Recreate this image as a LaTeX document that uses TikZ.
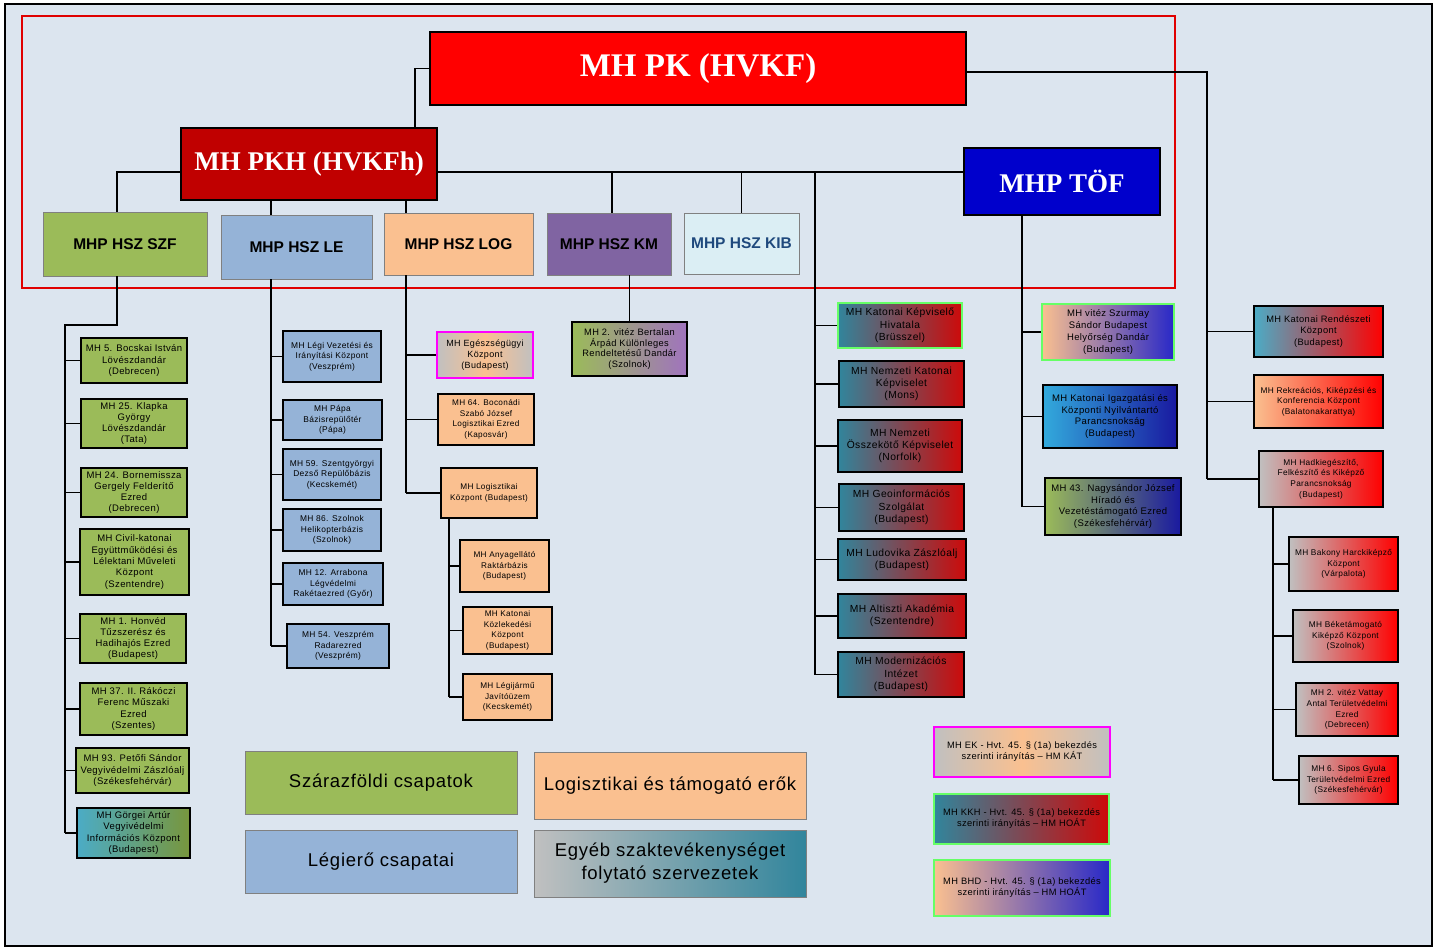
\documentclass[tikz,border=0pt]{standalone}
\usepackage{fontspec}
\setmainfont{Liberation Sans}
\newfontfamily\headfont{Liberation Serif}
\newfontfamily\spfont{Liberation Sans}[LetterSpace=4]
\usepackage{tikz}
\usetikzlibrary{positioning}
\definecolor{bgblue}{RGB}{220,229,239}
\definecolor{framered}{RGB}{224,0,0}
\definecolor{szfgreen}{RGB}{155,187,89}
\definecolor{leblue}{RGB}{149,179,215}
\definecolor{logpeach}{RGB}{250,192,144}
\definecolor{kmpurple}{RGB}{128,100,162}
\definecolor{kmlilac}{RGB}{160,115,190}
\definecolor{kibfill}{RGB}{219,238,244}
\definecolor{kibtext}{RGB}{31,73,125}
\definecolor{pkred}{RGB}{255,0,0}
\definecolor{pkhred}{RGB}{192,0,0}
\definecolor{tofblue}{RGB}{0,0,204}
\definecolor{mhteal}{RGB}{49,133,156}
\definecolor{mhred}{RGB}{205,10,10}
\definecolor{mhbright}{RGB}{255,0,0}
\definecolor{mhgray}{RGB}{192,192,192}
\definecolor{cyanblue}{RGB}{75,172,198}
\definecolor{skyblue}{RGB}{50,170,220}
\definecolor{mhnavy}{RGB}{25,25,160}
\definecolor{mhindigo}{RGB}{40,40,200}
\definecolor{mholive}{RGB}{120,150,60}
\definecolor{mhlime}{RGB}{102,255,102}
\definecolor{mhmagenta}{RGB}{255,0,255}

\begin{document}
\begin{tikzpicture}[x=1pt,y=-1pt,
    unit/.style={draw=black,line width=1.8pt,align=center,inner sep=1pt},
    wh/.style 2 args={minimum width=#1,minimum height=#2},
    szfu/.style={unit,fill=szfgreen,font=\spfont\fontsize{9.5}{11.3}\selectfont},
    leu/.style={unit,fill=leblue,font=\spfont\fontsize{8.4}{10.6}\selectfont},
    logu/.style={unit,fill=logpeach,font=\spfont\fontsize{8.2}{10.6}\selectfont},
    midu/.style={unit,left color=mhteal,right color=mhred,font=\spfont\fontsize{10.3}{12.3}\selectfont},
    tofu/.style={unit,font=\spfont\fontsize{9.5}{11.8}\selectfont},
    rgtu/.style={unit,font=\spfont\fontsize{8.3}{10.6}\selectfont},
    hsz/.style={draw=gray,line width=0.8pt,font=\bfseries\fontsize{15.5}{18}\selectfont},
    head/.style={draw=black,line width=1.5pt,text=white,font=\headfont\bfseries\fontsize{27}{30}\selectfont},
    leg/.style={draw=gray,line width=0.8pt,align=center,font=\spfont\fontsize{18.5}{23}\selectfont},
    note/.style={line width=1.8pt,align=center,font=\spfont\fontsize{9.3}{11}\selectfont},
    wire/.style={line width=1.3pt}]

\useasboundingbox (0,0) rectangle (1437,949);
\fill[white] (0,0) rectangle (1437,949);
\draw[line width=2pt,fill=bgblue] (5,4) rectangle (1432,946);
\draw[line width=1.6pt,draw=framered] (22,16) rectangle (1175,288);

\node[head,fill=pkred,wh={536}{73},font=\headfont\bfseries\fontsize{33}{36}\selectfont] (pk) at (698,68.5) {MH PK (HVKF)};
\node[head,fill=pkhred,wh={256}{72}] (pkh) at (309,164) {MH PKH (HVKFh)};
\node[head,fill=tofblue,wh={196}{67}] (tof) at (1062,181.5) {MHP TÖF};

\node[hsz,fill=szfgreen,wh={164}{64}] (szf) at (125,244) {MHP HSZ SZF};
\node[hsz,fill=leblue,wh={151}{64}] (le) at (296.5,247) {MHP HSZ LE};
\node[hsz,fill=logpeach,wh={149}{62}] (log) at (458.5,244) {MHP HSZ LOG};
\node[hsz,fill=kmpurple,wh={124}{62}] (km) at (609,244) {MHP HSZ KM};
\node[hsz,fill=kibfill,text=kibtext,wh={115}{61}] (kib) at (741.5,243.5) {MHP HSZ KIB};

\node[szfu,wh={106}{45}] (c1) at (134,360.5) {MH 5. Bocskai István\\Lövészdandár\\(Debrecen)};
\node[szfu,wh={106}{49}] (c2) at (134,423.5) {MH 25. Klapka\\György\\Lövészdandár\\(Tata)};
\node[szfu,wh={106}{49}] (c3) at (134,492.5) {MH 24. Bornemissza\\Gergely Felderítő\\Ezred\\(Debrecen)};
\node[szfu,wh={109}{66}] (c4) at (134.5,562) {MH Civil-katonai\\Együttműködési és\\Lélektani Műveleti\\Központ\\(Szentendre)};
\node[szfu,wh={106}{49}] (c5) at (133,638.5) {MH 1. Honvéd\\Tűzszerész és\\Hadihajós Ezred\\(Budapest)};
\node[szfu,wh={107}{52}] (c6) at (133.5,709) {MH 37. II. Rákóczi\\Ferenc Műszaki\\Ezred\\(Szentes)};
\node[szfu,wh={113}{45}] (c7) at (132.5,770.5) {MH 93. Petőfi Sándor\\Vegyivédelmi Zászlóalj\\(Székesfehérvár)};
\node[szfu,left color=cyanblue,right color=mholive,wh={113}{50}] (c8) at (133.5,833) {MH Görgei Artúr\\Vegyivédelmi\\Információs Központ\\(Budapest)};

\node[leu,wh={98}{51}] (l1) at (332,356.5) {MH Légi Vezetési és\\Irányítási Központ\\(Veszprém)};
\node[leu,wh={99}{40}] (l2) at (332.5,420) {MH Pápa\\Bázisrepülőtér\\(Pápa)};
\node[leu,wh={98}{51}] (l3) at (332,474.5) {MH 59. Szentgyörgyi\\Dezső Repülőbázis\\(Kecskemét)};
\node[leu,wh={98}{42}] (l4) at (332,530) {MH 86. Szolnok\\Helikopterbázis\\(Szolnok)};
\node[leu,wh={100}{42}] (l5) at (333,584) {MH 12. Arrabona\\Légvédelmi\\Rakétaezred (Győr)};
\node[leu,wh={102}{44}] (l6) at (338,646) {MH 54. Veszprém\\Radarezred\\(Veszprém)};

\node[logu,draw=mhmagenta,left color=mhgray,right color=mhgray,middle color=logpeach,wh={96}{46},font=\spfont\fontsize{9}{11.2}\selectfont] (g1) at (485,355) {MH Egészségügyi\\Központ\\(Budapest)};
\node[logu,wh={96}{51}] (g2) at (486,419.5) {MH 64. Boconádi\\Szabó József\\Logisztikai Ezred\\(Kaposvár)};
\node[logu,wh={96}{50}] (g3) at (489,493) {MH Logisztikai\\Központ (Budapest)};
\node[logu,wh={89}{52}] (g4) at (504.5,566) {MH Anyagellátó\\Raktárbázis\\(Budapest)};
\node[logu,wh={89}{47}] (g5) at (507.5,630.5) {MH Katonai\\Közlekedési\\Központ\\(Budapest)};
\node[logu,wh={89}{46}] (g6) at (507.5,697) {MH Légijármű\\Javítóüzem\\(Kecskemét)};

\node[unit,left color=szfgreen,right color=kmlilac,wh={115}{54},font=\spfont\fontsize{9.3}{10.8}\selectfont] (kmb) at (629.5,349) {MH 2. vitéz Bertalan\\Árpád Különleges\\Rendeltetésű Dandár\\(Szolnok)};

\node[midu,draw=mhlime,wh={124}{45}] (m1) at (900,325.5) {MH Katonai Képviselő\\Hivatala\\(Brüsszel)};
\node[midu,wh={125}{46}] (m2) at (901.5,384) {MH Nemzeti Katonai\\Képviselet\\(Mons)};
\node[midu,wh={124}{52}] (m3) at (900,446) {MH Nemzeti\\Összekötő Képviselet\\(Norfolk)};
\node[midu,wh={125}{47}] (m4) at (901.5,507.5) {MH Geoinformációs\\Szolgálat\\(Budapest)};
\node[midu,wh={128}{41}] (m5) at (902,559.5) {MH Ludovika Zászlóalj\\(Budapest)};
\node[midu,wh={128}{44}] (m6) at (902,616) {MH Altiszti Akadémia\\(Szentendre)};
\node[midu,wh={126}{45}] (m7) at (901,674.5) {MH Modernizációs\\Intézet\\(Budapest)};

\node[tofu,draw=mhlime,left color=logpeach,right color=mhindigo,wh={132}{56}] (t1) at (1108,332) {MH vitéz Szurmay\\Sándor Budapest\\Helyőrség Dandár\\(Budapest)};
\node[tofu,left color=skyblue,right color=mhnavy,wh={134}{63}] (t2) at (1110,416.5) {MH Katonai Igazgatási és\\Központi Nyilvántartó\\Parancsnokság\\(Budapest)};
\node[tofu,left color=szfgreen,right color=mhnavy,wh={136}{57}] (t3) at (1113,506.5) {MH 43. Nagysándor József\\Híradó és\\Vezetéstámogató Ezred\\(Székesfehérvár)};

\node[rgtu,left color=cyanblue,right color=mhbright,wh={129}{51},font=\spfont\fontsize{9.3}{11.3}\selectfont] (r1) at (1318.5,331.5) {MH Katonai Rendészeti\\Központ\\(Budapest)};
\node[rgtu,left color=logpeach,right color=mhbright,wh={129}{53}] (r2) at (1318.5,401.5) {MH Rekreációs, Kiképzési és\\Konferencia Központ\\(Balatonakarattya)};
\node[rgtu,left color=mhgray,right color=mhbright,wh={124}{56}] (r3) at (1321,479) {MH Hadkiegészítő,\\Felkészítő és Kiképző\\Parancsnokság\\(Budapest)};
\node[rgtu,left color=mhgray,right color=mhbright,wh={109}{54}] (r4) at (1343.5,564) {MH Bakony Harckiképző\\Központ\\(Várpalota)};
\node[rgtu,left color=mhgray,right color=mhbright,wh={105}{52}] (r5) at (1345.5,636) {MH Béketámogató\\Kiképző Központ\\(Szolnok)};
\node[rgtu,left color=mhgray,right color=mhbright,wh={102}{53}] (r6) at (1347,709.5) {MH 2. vitéz Vattay\\Antal Területvédelmi\\Ezred\\(Debrecen)};
\node[rgtu,left color=mhgray,right color=mhbright,wh={99}{48}] (r7) at (1348.5,780) {MH 6. Sipos Gyula\\Területvédelmi Ezred\\(Székesfehérvár)};

\node[leg,fill=szfgreen,wh={272}{63}] (k1) at (381,782.5) {Szárazföldi csapatok};
\node[leg,fill=logpeach,wh={272}{67}] (k2) at (670,785.5) {Logisztikai és támogató erők};
\node[leg,fill=leblue,wh={272}{63}] (k3) at (381,861.5) {Légierő csapatai};
\node[leg,left color=mhgray,right color=mhteal,wh={272}{67}] (k4) at (670,863.5) {Egyéb szaktevékenységet\\folytató szervezetek};

\node[note,draw=mhmagenta,left color=mhgray,right color=mhgray,middle color=logpeach,wh={176}{50}] (e1) at (1022,752) {MH EK - Hvt. 45. § (1a) bekezdés\\szerinti irányítás – HM KÁT};
\node[note,draw=mhlime,left color=mhteal,right color=mhred,wh={175}{50}] (e2) at (1021.5,819) {MH KKH - Hvt. 45. § (1a) bekezdés\\szerinti irányítás – HM HOÁT};
\node[note,draw=mhlime,left color=logpeach,right color=mhindigo,wh={176}{56}] (e3) at (1022,888) {MH BHD - Hvt. 45. § (1a) bekezdés\\szerinti irányítás – HM HOÁT};

\coordinate (pkj) at (415,128);
\coordinate (hb) at (117,172);
\coordinate (kmj) at (612,172);
\coordinate (szfj) at (65,325);
\coordinate (lej) at (271,200);
\coordinate (logj) at (406,200);
\coordinate (gkj) at (449,697);
\coordinate (midj) at (815,172);
\coordinate (tofj) at (1022,215);
\coordinate (rj) at (1207,479);
\coordinate (hj) at (1273,780);

\draw[wire] (pk.west) -| (pkj);
\draw[wire] (szf.north -| hb) |- (pkh.west |- hb);
\draw[wire] (pkh.east |- hb) -- (tof.west |- hb);
\draw[wire] (kmj) -- (kmj |- km.north);
\draw[wire] (kib.north) -- (kib.north |- hb);
\draw[wire] (kmb.north) -- (kmb.north |- km.south);

\draw[wire] (szf.south -| hb) |- (szfj) -- (szfj |- c8);
\foreach \i in {1,...,8} \draw[wire] (c\i.west) -- (c\i.west -| szfj);

\draw[wire] (lej) -- (lej |- le.north);
\draw[wire] (lej |- le.south) -- (lej |- l6);
\foreach \i in {1,...,6} \draw[wire] (l\i.west) -- (l\i.west -| lej);

\draw[wire] (logj) -- (logj |- log.north);
\draw[wire] (logj |- log.south) -- (logj |- g3);
\foreach \i in {1,2,3} \draw[wire] (g\i.west) -- (g\i.west -| logj);
\draw[wire] (gkj |- g3.south) -- (gkj);
\foreach \i in {4,5,6} \draw[wire] (g\i.west) -- (g\i.west -| gkj);

\draw[wire] (midj) -- (midj |- m7);
\foreach \i in {1,...,7} \draw[wire] (m\i.west) -- (m\i.west -| midj);

\draw[wire] (tofj) -- (tofj |- t3);
\foreach \i in {1,2,3} \draw[wire] (t\i.west) -- (t\i.west -| tofj);

\draw[wire] ([yshift=-3.5pt]pk.east) -| (rj);
\foreach \i in {1,2,3} \draw[wire] (r\i.west) -- (r\i.west -| rj);
\draw[wire] (hj |- r3.south) -- (hj);
\foreach \i in {4,...,7} \draw[wire] (r\i.west) -- (r\i.west -| hj);

\end{tikzpicture}
\end{document}
